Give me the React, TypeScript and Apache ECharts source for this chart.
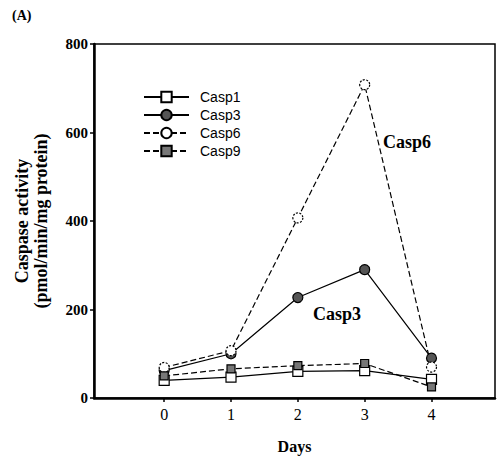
import React, { useEffect, useRef } from "react";
import * as echarts from "echarts";

const days = [0, 1, 2, 3, 4];
const casp1 = [40, 47, 60, 62, 42];
const casp3 = [62, 100, 227, 290, 90];
const casp6 = [69, 107, 407, 708, 70];
const casp9 = [50, 66, 73, 78, 25];
const seriesNames = ["Casp1", "Casp3", "Casp6", "Casp9"];
const dayTicks = [0, 1, 2, 3, 4];

const SERIF = "'Liberation Serif', 'Times New Roman', serif";
const SANS = "'Liberation Sans', Arial, sans-serif";

export default function App() {
  const ref = useRef<HTMLDivElement>(null);
  useEffect(() => {
    document.body.style.margin = "0";
    if (!ref.current) return;
    const chart = echarts.init(ref.current, undefined, { renderer: "svg" });
    const pts = (arr: number[]) => days.map((d, i) => [d, arr[i]]);
    const line = (type: any) => ({ color: "#000", width: 1.2, type });
    chart.setOption({
      animation: false,
      backgroundColor: "#fff",
      grid: {
        left: 94,
        right: 4,
        top: 44,
        bottom: 56,
        show: true,
        borderColor: "#000",
        borderWidth: 1.5,
        backgroundColor: "transparent",
      },
      legend: {
        orient: "vertical",
        left: 138,
        top: 85,
        itemWidth: 45,
        itemHeight: 13,
        itemGap: 4,
        data: seriesNames,
        textStyle: { fontFamily: SANS, fontSize: 14, color: "#000", padding: [0, 0, 0, 6] },
      },
      xAxis: {
        type: "value",
        min: -1.05,
        max: 4.95,
        splitLine: { show: false },
        axisLine: { onZero: false, lineStyle: { color: "#000", width: 2.5 } },
        axisTick: { customValues: dayTicks, length: 4, lineStyle: { color: "#000", width: 1.5 } },
        axisLabel: { customValues: dayTicks, fontFamily: SERIF, fontSize: 16, color: "#000", margin: 8 },
        name: "Days",
        nameLocation: "middle",
        nameGap: 40,
        nameTextStyle: { fontFamily: SERIF, fontSize: 16, fontWeight: "bold", color: "#000" },
      },
      yAxis: {
        type: "value",
        min: 0,
        max: 800,
        interval: 200,
        splitLine: { show: false },
        axisLine: { show: true, onZero: false, lineStyle: { color: "#000", width: 2.5 } },
        axisTick: { show: true, length: 4, lineStyle: { color: "#000", width: 1.5 } },
        axisLabel: { fontFamily: SERIF, fontSize: 15, fontWeight: "bold", color: "#000", margin: 6 },
        name: "Caspase activity\n(pmol/min/mg protein)",
        nameLocation: "middle",
        nameGap: 44,
        nameTextStyle: { fontFamily: SERIF, fontSize: 18, fontWeight: "bold", color: "#000", lineHeight: 19 },
      },
      graphic: [
        { type: "text", left: 12, top: 8, style: { text: "(A)", font: `bold 14px ${SERIF}`, fill: "#000" } },
        { type: "text", left: 383, top: 133, style: { text: "Casp6", font: `bold 18px ${SERIF}`, fill: "#000" } },
        { type: "text", left: 313, top: 305, style: { text: "Casp3", font: `bold 18px ${SERIF}`, fill: "#000" } },
      ],
      series: [
        {
          name: "Casp1",
          type: "line",
          data: pts(casp1),
          symbol: "rect",
          symbolSize: 10,
          itemStyle: { color: "#fff", borderColor: "#000", borderWidth: 1.2 },
          lineStyle: line("solid"),
        },
        {
          name: "Casp3",
          type: "line",
          data: pts(casp3),
          symbol: "circle",
          symbolSize: 10,
          itemStyle: { color: "#555", borderColor: "#000", borderWidth: 1.2 },
          lineStyle: line("solid"),
        },
        {
          name: "Casp6",
          type: "line",
          data: pts(casp6),
          symbol: "circle",
          symbolSize: 10,
          itemStyle: { color: "#fff", borderColor: "#000", borderWidth: 1.2, borderType: [2, 1.5] },
          lineStyle: line([6, 3]),
        },
        {
          name: "Casp9",
          type: "line",
          data: pts(casp9),
          symbol: "rect",
          symbolSize: 8,
          itemStyle: { color: "#777", borderColor: "#000", borderWidth: 1.2 },
          lineStyle: line([6, 3]),
        },
      ],
    });
    return () => chart.dispose();
  }, []);
  return <div ref={ref} style={{ width: 499, height: 459 }} />;
}
